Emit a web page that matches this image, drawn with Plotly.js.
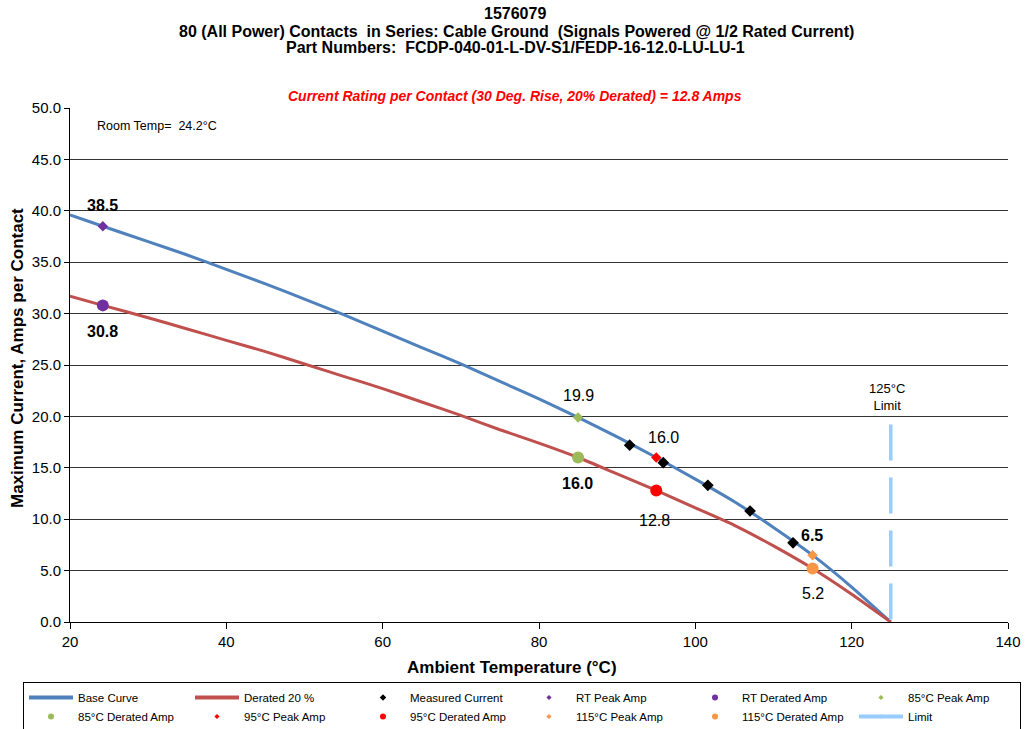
<!DOCTYPE html>
<html><head><meta charset="utf-8">
<script src="https://cdn.plot.ly/plotly-3.0.1.min.js"></script>
<style>html,body{margin:0;padding:0;background:#fff}#chart{width:1025px;height:729px}</style>
</head><body><div id="chart"></div>
<script>
// ---- data ----
const curveTemps = [20, 24.2, 30, 35, 40, 45, 50, 55, 60, 65, 70, 75, 80, 85, 90, 95, 100, 105, 110, 115, 120, 125];
const baseCurve = [39.6, 38.5, 37.0, 35.7, 34.3, 32.9, 31.4, 29.9, 28.3, 26.7, 25.1, 23.4, 21.7, 19.9, 18.0, 16.0, 13.9, 11.7, 9.2, 6.5, 3.4, 0];
const deratedCurve = [31.7, 30.8, 29.6, 28.5, 27.4, 26.3, 25.1, 23.9, 22.7, 21.4, 20.1, 18.7, 17.4, 16.0, 14.4, 12.8, 11.1, 9.4, 7.4, 5.2, 2.7, 0];
const measuredTemps = [91.6, 95.9, 101.6, 107.0, 112.5];
const measuredAmps = [17.2, 15.5, 13.3, 10.8, 7.7];
const pointNames = ['RT', '85°C', '95°C', '115°C'];
const pointTemps = [24.2, 85, 95, 115];
const peakAmps = [38.5, 19.9, 16.0, 6.5];
const deratedAmps = [30.8, 16.0, 12.8, 5.2];
const limitTemps = [125, 125];
const limitAmps = [19.2, 0];
const xTicks = [20, 40, 60, 80, 100, 120, 140];

const FONT = 'Liberation Sans, Arial, sans-serif';
const pointColors = ['#7030A0', '#9BBB59', '#FF0000', '#F79646'];
const BLUE = '#4F81BD', RED = '#C0504D', LIMIT = '#99CCFF';

// plotted traces (legend shown through small proxy entries below)
const traces = [
  {x: curveTemps, y: baseCurve, mode: 'lines', showlegend: false, line: {color: BLUE, width: 3, shape: 'spline', smoothing: 0.6}},
  {x: curveTemps, y: deratedCurve, mode: 'lines', showlegend: false, line: {color: RED, width: 3, shape: 'spline', smoothing: 0.6}},
  {x: measuredTemps, y: measuredAmps, mode: 'markers', showlegend: false, marker: {symbol: 'diamond', color: '#000', size: 9}}
];
pointNames.forEach((n, i) => {
  traces.push({x: [pointTemps[i]], y: [peakAmps[i]], mode: 'markers', showlegend: false, marker: {symbol: 'diamond', color: pointColors[i], size: 8}});
  traces.push({x: [pointTemps[i]], y: [deratedAmps[i]], mode: 'markers', showlegend: false, marker: {symbol: 'circle', color: pointColors[i], size: 12}});
});
traces.push({x: limitTemps, y: limitAmps, mode: 'lines', showlegend: false, line: {color: LIMIT, width: 3.5, dash: '36px,17px'}});

// legend entries
const nul = {x: [null], y: [null]};
const legendTraces = [
  Object.assign({name: 'Base Curve', mode: 'lines', line: {color: BLUE, width: 4}}, nul),
  Object.assign({name: 'Derated 20 %', mode: 'lines', line: {color: RED, width: 4}}, nul),
  Object.assign({name: 'Measured Current', mode: 'markers', marker: {symbol: 'diamond', color: '#000', size: 5}}, nul)
];
pointNames.forEach((n, i) => {
  legendTraces.push(Object.assign({name: n + ' Peak Amp', mode: 'markers', marker: {symbol: 'diamond', color: pointColors[i], size: 4}}, nul));
  legendTraces.push(Object.assign({name: n + ' Derated Amp', mode: 'markers', marker: {symbol: 'circle', color: pointColors[i], size: 6}}, nul));
});
legendTraces.push(Object.assign({name: 'Limit', mode: 'lines+markers', line: {color: LIMIT, width: 4}, marker: {color: LIMIT, size: 4}}, nul));

function px2x(p) { return (p - 70) / 938; }
function py2y(p) { return (622 - p) / 514; }

const ann = [];
function paperText(text, px, py, size, opts) {
  ann.push(Object.assign({text: text, xref: 'paper', yref: 'paper', x: px2x(px), y: py2y(py), xanchor: 'center', yanchor: 'middle', showarrow: false, font: {family: FONT, size: size, color: '#000'}}, opts || {}));
}
function dataText(text, x, y, size) {
  ann.push({text: text, xref: 'x', yref: 'y', x: x, y: y, xanchor: 'center', yanchor: 'middle', showarrow: false, font: {family: FONT, size: size, color: '#000'}});
}
paperText('<b>1576079</b>', 515, 13, 16);
paperText('<b>80 (All Power) Contacts  in Series: Cable Ground  (Signals Powered @ 1/2 Rated Current)</b>', 516, 31, 16);
paperText('<b>Part Numbers:  FCDP-040-01-L-DV-S1/FEDP-16-12.0-LU-LU-1</b>', 515, 48, 16);
paperText('<b><i>Current Rating per Contact (30 Deg. Rise, 20% Derated) = 12.8 Amps</i></b>', 515, 96, 14, {font: {family: FONT, size: 14, color: '#FF0000'}});
paperText('<b>Ambient Temperature (°C)</b>', 512, 667, 17);
paperText('<b>Maximum Current, Amps per Contact</b>', 17, 358, 17, {textangle: -90});
paperText('Room Temp=  24.2°C', 157, 126, 12.5);

dataText('<b>38.5</b>', 24.1, 40.5, 16);
dataText('<b>30.8</b>', 24.1, 28.3, 16);
dataText('19.9', 85, 22.0, 16);
dataText('16.0', 95.9, 17.9, 16);
dataText('<b>16.0</b>', 84.9, 13.5, 16);
dataText('12.8', 94.8, 9.9, 16);
dataText('<b>6.5</b>', 114.9, 8.4, 16);
dataText('5.2', 115, 2.8, 16);
dataText('125°C<br>Limit', 124.5, 21.9, 13);

const layout = {
  width: 1025, height: 729,
  margin: {l: 70, r: 17, t: 108, b: 107, pad: 0, autoexpand: false},
  paper_bgcolor: '#fff', plot_bgcolor: '#fff',
  font: {family: FONT, size: 15, color: '#000'},
  showlegend: true,
  xaxis: {range: [20, 140], tickvals: xTicks, ticktext: xTicks.map(String), showgrid: false, zeroline: false,
          showline: true, linecolor: '#000', linewidth: 1, ticks: 'outside', ticklen: 6, tickcolor: '#000',
          tickfont: {family: FONT, size: 15, color: '#000'}, automargin: false},
  yaxis: {range: [0, 50], dtick: 5, tick0: 0, tickformat: '.1f', showgrid: true, gridcolor: '#333', gridwidth: 1,
          zeroline: false, showline: true, linecolor: '#000', linewidth: 1, ticks: 'outside', ticklen: 5, tickcolor: '#000',
          tickfont: {family: FONT, size: 15, color: '#000'}, automargin: false},
  legend: {orientation: 'h', xref: 'paper', yref: 'paper', x: px2x(23), y: py2y(682),
           xanchor: 'left', yanchor: 'top', bordercolor: '#000', borderwidth: 1, bgcolor: '#fff',
           font: {family: FONT, size: 11.5, color: '#000'}, entrywidth: 107, entrywidthmode: 'pixels',
           itemwidth: 44, traceorder: 'normal'},
  annotations: ann
};

Plotly.newPlot('chart', traces.concat(legendTraces), layout, {displayModeBar: false, staticPlot: true});
</script>
</body></html>
